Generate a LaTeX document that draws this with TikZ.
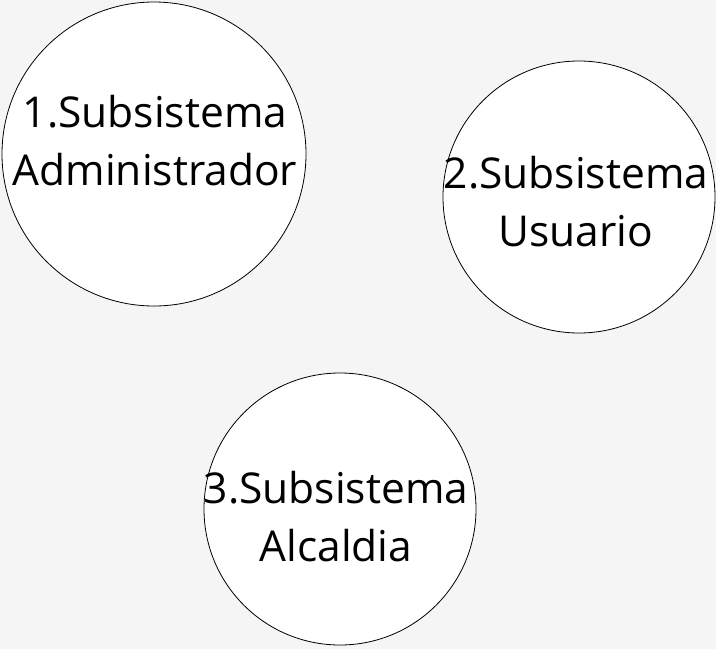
\documentclass[tikz,border=0pt]{standalone}
\usepackage{fontspec}
\setmainfont{Open Sans}
\definecolor{bg}{HTML}{F5F5F5}
\begin{document}
\begin{tikzpicture}[x=1pt,y=-1pt,
  proc/.style={circle,draw=black,line width=0.8pt,fill=white,minimum size=#1,inner sep=0pt},
  lbl/.style={align=center,font=\fontsize{42.5}{58}\selectfont}]
\fill[bg] (0,0) rectangle (716,649);
\useasboundingbox (0,0) rectangle (716,649);
\node[proc=304pt] (c1) at (154,154) {};
\node[proc=272pt] (c2) at (579,197) {};
\node[proc=272pt] (c3) at (340,509) {};
\node[lbl] (t1) at (155,141) {1.Subsistema\\Administrador};
\node[lbl] (t2) at (576,202) {2.Subsistema\\Usuario};
\node[lbl] (t3) at (336,517) {3.Subsistema\\Alcaldia};
\end{tikzpicture}
\end{document}
